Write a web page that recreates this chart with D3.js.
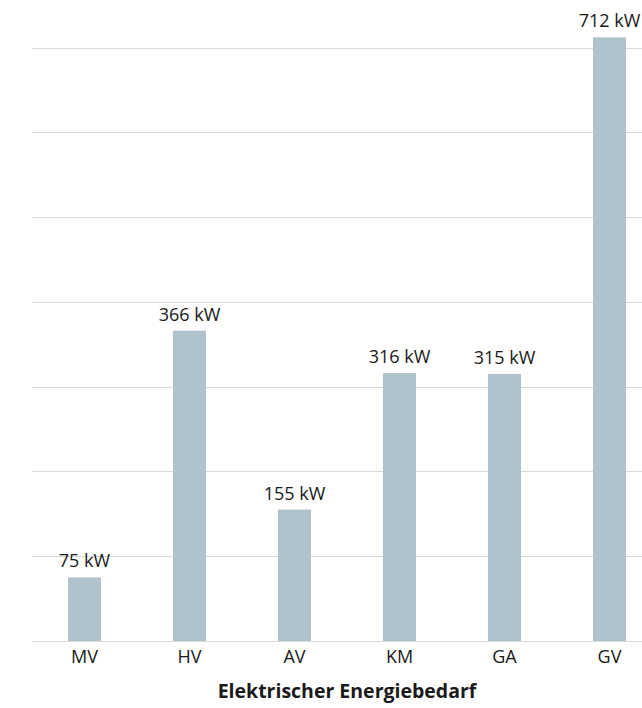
<!DOCTYPE html>
<html>
<head>
<meta charset="utf-8">
<script src="https://cdn.jsdelivr.net/npm/d3@7"></script>
<style>
  html, body { margin: 0; padding: 0; background: #fff; overflow: hidden; }
  svg { display: block; }
  text { font-family: "Open Sans", "Noto Sans", sans-serif; fill: #1a1a1a; }
</style>
</head>
<body>
<svg id="chart" width="642" height="708"></svg>
<script>
// Electrical energy demand per building section (kW)
const categories = ["MV", "HV", "AV", "KM", "GA", "GV"];
const values = [75, 366, 155, 316, 315, 712];
const gridTicks = [0, 100, 200, 300, 400, 500, 600, 700];
const unit = "kW";
const axisTitle = "Elektrischer Energiebedarf";

const svg = d3.select("#chart");
const plot = { left: 32, right: 662, top: 47.5, bottom: 641 };

const x = d3.scaleBand()
  .domain(categories)
  .range([plot.left, plot.right])
  .paddingInner(0.686)
  .paddingOuter(0.343);

const y = d3.scaleLinear()
  .domain([0, 700])
  .range([plot.bottom, plot.top]);

// horizontal gridlines
svg.append("g")
  .selectAll("line")
  .data(gridTicks)
  .join("line")
  .attr("x1", plot.left)
  .attr("x2", plot.right)
  .attr("y1", d => Math.round(y(d)) + 0.5)
  .attr("y2", d => Math.round(y(d)) + 0.5)
  .attr("stroke", "#d9d9d9")
  .attr("stroke-width", 1.2);

// bars
svg.append("g")
  .selectAll("rect")
  .data(values)
  .join("rect")
  .attr("x", (d, i) => x(categories[i]))
  .attr("width", x.bandwidth())
  .attr("y", d => y(d))
  .attr("height", d => y(0) - y(d))
  .attr("fill", "#b0c3cd");

// value labels
svg.append("g")
  .selectAll("text")
  .data(values)
  .join("text")
  .attr("x", (d, i) => x(categories[i]) + x.bandwidth() / 2)
  .attr("y", d => y(d) - 10)
  .attr("text-anchor", "middle")
  .attr("font-size", 18)
  .text(d => `${d} ${unit}`);

// category axis
const xAxis = svg.append("g")
  .attr("transform", `translate(0,${plot.bottom})`)
  .call(d3.axisBottom(x).tickSize(0).tickPadding(9));
xAxis.select(".domain").remove();
xAxis.selectAll("text")
  .attr("font-size", 18)
  .attr("font-family", "\"Open Sans\", \"Noto Sans\", sans-serif")
  .attr("fill", "#1a1a1a");

// axis title
svg.append("text")
  .attr("x", (plot.left + plot.right) / 2)
  .attr("y", 698)
  .attr("text-anchor", "middle")
  .attr("font-size", 19.5)
  .attr("font-weight", "bold")
  .text(axisTitle);
</script>
</body>
</html>
